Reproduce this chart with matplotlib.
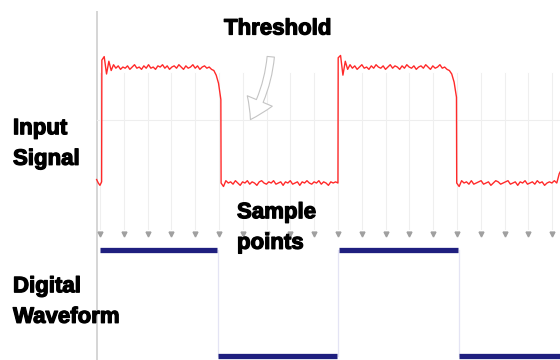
import numpy as np
import matplotlib
matplotlib.use("Agg")
import matplotlib.pyplot as plt
import matplotlib.patheffects as pe

# ---------------------------------------------------------
# DATA
# ---------------------------------------------------------

# sample instants (in sample periods)
sample_times = list(range(0, 20))

# noisy analog input, in segments: (t_start, t_end, values)
seg_low0 = (-0.14, 0.07, [0.03, 0.0, -0.02, 0.01])
seg_high1 = (0.08, 5.08, [
    1.06, 1.09, 0.94, 1.05, 0.97, 1.02, 0.99, 1.01, 0.98, 1.0,
    0.99, 1.01, 0.98, 1.0, 1.02, 0.99, 1.0, 0.98, 1.01, 0.99,
    1.02, 0.99, 1.0, 0.98, 1.01, 1.0, 1.02, 0.99, 1.01, 0.98,
    1.0, 1.01, 0.99, 1.02, 1.0, 0.98, 1.01, 0.99, 1.0, 1.02,
    0.99, 1.01, 0.98, 1.0, 1.01, 0.99, 1.0, 0.98, 0.97, 0.93,
    0.86, 0.72,
])
seg_low1 = (5.09, 10.0, [
    0.0, -0.03, 0.02, 0.0, 0.01, -0.01, 0.02, 0.0, -0.02, 0.01,
    0.0, 0.02, -0.01, 0.01, 0.0, -0.02, 0.01, 0.02, 0.0, -0.01,
    0.01, 0.0, 0.02, -0.01, 0.0, 0.01, -0.02, 0.01, 0.0, 0.02,
    -0.01, 0.0, 0.01, -0.02, 0.01, 0.0, 0.02, 0.0, -0.01, 0.01,
    0.0, 0.02, -0.01, 0.01, 0.0, -0.02, 0.01, 0.0, 0.01, 0.0,
])
seg_high2 = (10.01, 14.98, [
    1.08, 1.1, 0.93, 1.05, 0.98, 1.02, 0.99, 1.01, 0.98, 1.0,
    1.02, 0.99, 1.0, 0.98, 1.01, 0.99, 1.02, 1.0, 0.99, 1.01,
    0.98, 1.0, 1.02, 0.99, 1.01, 1.0, 0.98, 1.01, 0.99, 1.02,
    1.0, 0.99, 1.01, 0.98, 1.0, 1.01, 0.99, 1.02, 1.0, 0.98,
    1.01, 0.99, 1.0, 1.02, 0.99, 1.0, 0.98, 0.97, 0.94, 0.87,
    0.74,
])
seg_low2 = (14.99, 19.4, [
    0.0, -0.03, 0.02, 0.0, 0.01, -0.01, 0.02, -0.01, 0.0, 0.01,
    0.02, -0.01, 0.0, 0.01, -0.02, 0.0, 0.02, 0.01, -0.01, 0.0,
    0.01, 0.02, -0.01, 0.0, 0.01, -0.02, 0.01, 0.0, 0.02, -0.01,
    0.0, 0.01, -0.01, 0.02, 0.0, 0.01, -0.02, 0.0, 0.01, 0.0,
    0.02, 0.0, 0.08, 0.12,
])
signal_segments = [seg_low0, seg_high1, seg_low1, seg_high2, seg_low2]

threshold_level = 0.54

# digital waveform: level per interval
dig_start = [0.0, 4.96, 10.04, 15.1]
dig_end = [4.92, 9.98, 15.04, 19.4]
dig_bits = [1, 0, 1, 0]

# ---------------------------------------------------------
# LAYOUT
# ---------------------------------------------------------

W, H = 560, 360
DIG_HIGH = -0.58
DIG_LOW = -1.49
ARROW_Y = -0.44


def fx(px):
    return px / W


def fy(py):
    return 1 - py / H


fig = plt.figure(figsize=(5.6, 3.6), dpi=100)
ax = fig.add_axes([0, 0, 1, 1])
ax.set_xlim(-4.2, 19.33)
ax.set_ylim(-1.526, 1.578)
ax.axis("off")

# vertical reference axis
ax.plot([-0.13, -0.13], [1.48, -1.6], color="#d2d2d2", lw=1.3,
        solid_capstyle="butt", zorder=1)

# threshold line
ax.plot([-0.13, 19.4], [threshold_level, threshold_level],
        color="#eeeeee", lw=0.8, zorder=1)

# sample guide lines and arrow heads
for t in sample_times:
    ax.plot([t, t], [0.95, ARROW_Y + 0.04], color="#efefef", lw=0.8, zorder=1)
ax.plot(sample_times, [ARROW_Y] * len(sample_times), linestyle="none",
        marker="v", markersize=3.5, color="#a0a0a0", zorder=2)

# analog signal
sig_t = []
sig_v = []
for t0, t1, vals in signal_segments:
    sig_t.extend(np.linspace(t0, t1, len(vals)))
    sig_v.extend(vals)
ax.plot(sig_t, sig_v, color="#ff2a2a", lw=1.0, zorder=3)

# digital waveform
for i in range(len(dig_bits)):
    y = DIG_HIGH if dig_bits[i] else DIG_LOW
    ax.plot([dig_start[i], dig_end[i]], [y, y], color="#1f1f7f", lw=3.8,
            solid_capstyle="butt", zorder=3)
    if i > 0:
        ax.plot([dig_start[i] - 0.02] * 2, [DIG_HIGH, DIG_LOW],
                color="#e4e4f4", lw=0.9, zorder=2)

# ---------------------------------------------------------
# TEXT
# ---------------------------------------------------------

font = dict(family="Liberation Sans", fontweight="bold", fontsize=16,
            color="black",
            path_effects=[pe.withStroke(linewidth=0.9, foreground="black")])

fig.text(fx(224), fy(29), "Threshold", ha="left", va="center", **font)
fig.text(fx(13), fy(144), "Input\nSignal", ha="left", va="center",
         linespacing=1.6, **font)
fig.text(fx(237), fy(228), "Sample\npoints", ha="left", va="center",
         linespacing=1.6, **font)
fig.text(fx(13), fy(302), "Digital\nWaveform", ha="left", va="center",
         linespacing=1.6, **font)

# hollow arrow pointing at threshold
ax.annotate("", xy=(fx(249), fy(122)), xycoords="figure fraction",
            xytext=(fx(271), fy(54)), textcoords="figure fraction",
            arrowprops=dict(arrowstyle="simple,head_length=1.0,head_width=1.3,tail_width=0.35",
                            mutation_scale=15, fc="white", ec="#c4c4c4",
                            lw=0.8, connectionstyle="arc3,rad=-0.12"))

plt.savefig("out.png", dpi=100)
